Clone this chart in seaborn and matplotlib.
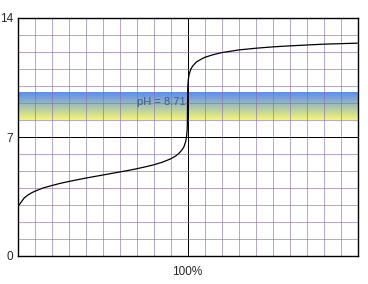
import numpy as np
import matplotlib
matplotlib.use("Agg")
import matplotlib.pyplot as plt
from matplotlib.ticker import MultipleLocator, FixedLocator
from matplotlib.colors import LinearSegmentedColormap
import seaborn as sns

# Titration data: % of base added vs pH
titrant_pct = [0, 2, 4, 6, 8, 10, 15, 20, 25, 30, 35, 40, 45, 50, 55, 60, 65, 70,
               75, 80, 85, 90, 93, 95, 97, 98, 99, 99.5, 99.8, 99.9, 100, 100.1,
               100.2, 100.5, 101, 102, 103, 105, 107, 110, 115, 120, 130, 140,
               150, 160, 170, 180, 190, 200]
ph_values = [2.88, 3.15, 3.42, 3.58, 3.70, 3.80, 4.00, 4.14, 4.27, 4.38, 4.48,
             4.58, 4.67, 4.76, 4.85, 4.94, 5.03, 5.13, 5.24, 5.36, 5.51, 5.71,
             5.88, 6.04, 6.27, 6.45, 6.76, 7.06, 7.45, 7.76, 8.71, 9.70, 10.00,
             10.40, 10.70, 11.00, 11.17, 11.39, 11.52, 11.68, 11.84, 11.96,
             12.12, 12.22, 12.30, 12.36, 12.41, 12.46, 12.49, 12.52]

indicator_range = [8.0, 9.6]
equivalence_label = "pH = 8.71"
x_ticks = [100]
x_tick_labels = ["100%"]
y_ticks = [0, 7, 14]

sns.set_style("white")
plt.rcParams['font.family'] = ['Liberation Sans', 'DejaVu Sans']

W, H = 368, 284
fig = plt.figure(figsize=(W / 100, H / 100), dpi=100)
ax = fig.add_axes([17.5 / W, 28 / H, 340 / W, 238 / H])

# indicator band gradient (yellow bottom -> blue top)
cmap = LinearSegmentedColormap.from_list("ind", ["#f6f66e", "#5a8df2"])
grad = np.linspace(0, 1, 256).reshape(-1, 1)
ax.imshow(grad, extent=[0, 200, indicator_range[0], indicator_range[1]],
          origin="lower", aspect="auto", cmap=cmap, zorder=0.1)

sns.lineplot(x=titrant_pct, y=ph_values, ax=ax, color="black",
             linewidth=0.9, estimator=None, sort=False, zorder=3)

ax.text(84.5, 9.05, equivalence_label, ha="center", va="center",
        fontsize=8, color="#3c5a8a", zorder=4)

ax.set_xlim(0, 200)
ax.set_ylim(0, 14)
ax.set_axisbelow(True)

ax.xaxis.set_major_locator(FixedLocator(x_ticks))
ax.set_xticklabels(x_tick_labels)
ax.xaxis.set_minor_locator(MultipleLocator(10))
ax.yaxis.set_major_locator(FixedLocator(y_ticks))
ax.yaxis.set_minor_locator(MultipleLocator(1))

ax.grid(which="minor", color="#8a6cb4", alpha=0.6, linewidth=0.72,
        antialiased=False)
ax.grid(which="major", color="black", linewidth=0.72, antialiased=False)

ax.tick_params(which="both", length=0)
ax.tick_params(axis="x", pad=7, labelsize=8.5)
ax.tick_params(axis="y", pad=3, labelsize=8.5)

for s in ax.spines.values():
    s.set_color("black")
    s.set_linewidth(1.0)
    s.set_visible(True)

ax.set_xlabel("")
ax.set_ylabel("")

fig.savefig("out.png", dpi=100)
